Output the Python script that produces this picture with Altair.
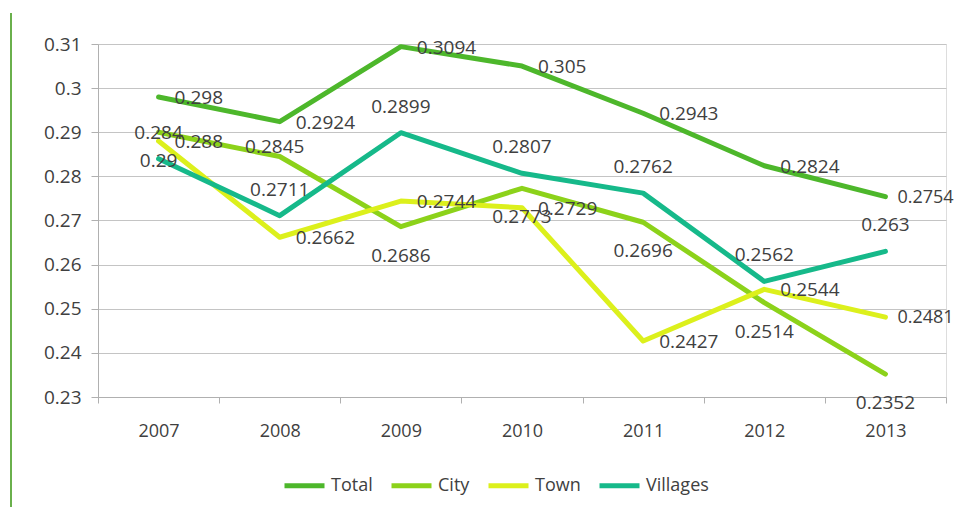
import altair as alt
import pandas as pd

years = ["2007", "2008", "2009", "2010", "2011", "2012", "2013"]
series_names = ["Total", "City", "Town", "Villages"]
total = [0.298, 0.2924, 0.3094, 0.305, 0.2943, 0.2824, 0.2754]
city = [0.29, 0.2845, 0.2686, 0.2773, 0.2696, 0.2514, 0.2352]
town = [0.288, 0.2662, 0.2744, 0.2729, 0.2427, 0.2544, 0.2481]
villages = [0.284, 0.2711, 0.2899, 0.2807, 0.2762, 0.2562, 0.263]
y_ticks = [0.23, 0.24, 0.25, 0.26, 0.27, 0.28, 0.29, 0.3, 0.31]

# label placement per series (and per point for City / last year)
placement = {
    "Total": ["right"] * 6 + ["edge"],
    "City": ["below", "upper", "below", "below", "below", "below", "below"],
    "Town": ["right"] * 6 + ["edge"],
    "Villages": ["above"] * 7,
}
colors = ["#4db72b", "#8cd21a", "#dcf01c", "#16b98a"]

rows = []
for name, vals in zip(series_names, [total, city, town, villages]):
    for i, (yr, v) in enumerate(zip(years, vals)):
        rows.append({"year": yr, "series": name, "value": v,
                     "label": str(v), "place": placement[name][i],
                     "order": series_names.index(name)})
df = pd.DataFrame(rows)

W, H = 848, 353
FONT = "Open Sans"
TXT = "#404040"

x_enc = alt.X("year:N", sort=years, title=None,
              scale=alt.Scale(paddingInner=0, paddingOuter=0),
              axis=alt.Axis(labelAngle=0, tickBand="extent", tickSize=6,
                            labelPadding=19, labelFontSize=18, labelFont=FONT,
                            labelColor=TXT, domainColor="#b0b0b0",
                            tickColor="#b0b0b0", grid=False))
y_enc = alt.Y("value:Q", title=None,
              scale=alt.Scale(domain=[0.23, 0.31], nice=False, zero=False),
              axis=alt.Axis(values=y_ticks, format="~g", tickSize=7,
                            labelPadding=10, labelFontSize=19, labelFont=FONT,
                            labelColor=TXT, domainColor="#b0b0b0",
                            tickColor="#b0b0b0", gridColor="#c4c4c4",
                            gridWidth=1))

base = alt.Chart(df)

lines = base.mark_line(strokeWidth=5, strokeCap="round", strokeJoin="round").encode(
    x=x_enc, y=y_enc,
    color=alt.Color("series:N", sort=series_names,
                    scale=alt.Scale(domain=series_names, range=colors),
                    legend=alt.Legend(title=None, orient="none", direction="horizontal",
                                      legendX=184, legendY=419,
                                      symbolType="stroke", symbolStrokeWidth=5,
                                      symbolSize=1600, labelFont=FONT,
                                      labelFontSize=18, labelColor=TXT,
                                      labelOffset=4, columnPadding=8)),
    order="order:Q",
    detail="series:N",
)

def label_layer(place, align, dx, dy, size=19):
    return base.transform_filter(alt.datum.place == place).mark_text(
        align=align, baseline="middle", dx=dx, dy=dy, font=FONT, fontSize=size,
        color=TXT).encode(x=alt.X("year:N", sort=years), y="value:Q", text="label:N")

labels = (label_layer("right", "left", 16, 1) + label_layer("above", "center", 0, -26)
          + label_layer("below", "center", 0, 29) + label_layer("upper", "center", -5, -10)
          + label_layer("edge", "left", 12, 1, 18))

border = alt.Chart(df).mark_rule(color="#6ab04c", strokeWidth=2).encode(
    x=alt.value(-87), y=alt.value(-31), y2=alt.value(480))

chart = alt.layer(lines, labels, border).properties(
    width=W, height=H,
    autosize=alt.AutoSizeParams(type="none"),
    padding={"left": 90, "top": 36, "right": 9, "bottom": 110},
).configure_view(stroke=None).configure(background="white")

chart.save("out.html", embed_options={"renderer": "svg", "actions": False})
